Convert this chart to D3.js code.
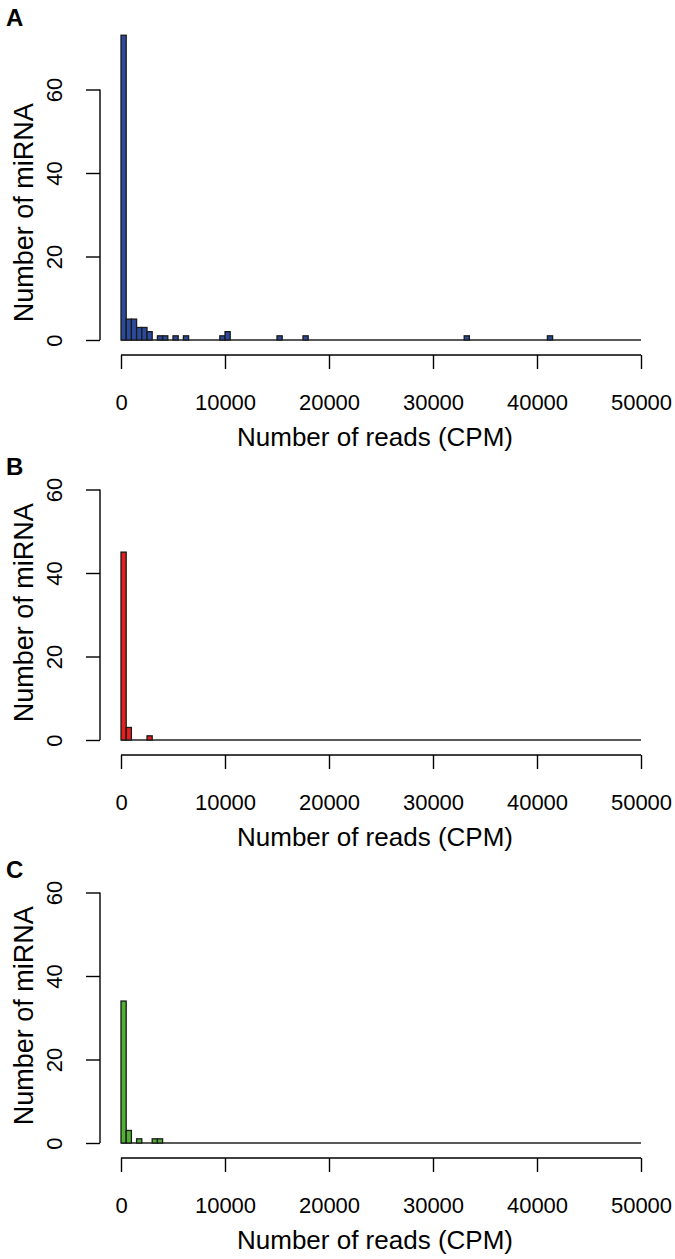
<!DOCTYPE html>
<html lang="en">
<head>
    <meta charset="UTF-8">
    <title>miRNA read count histograms</title>
    <script src="https://d3js.org/d3.v7.min.js"></script>
    <style>
        body { margin: 0; background: #fff; font-family: Arial, "Liberation Sans", sans-serif; }
        svg text { fill: #000; }
    </style>
</head>
<body>
<div id="chart"></div>
<script>
    // bin starts (CPM, bin width 500) and counts for each panel
    const binWidth = 500;
    const xTicks = [0, 10000, 20000, 30000, 40000, 50000];
    const yTicks = [0, 20, 40, 60];

    const binsA = [0, 500, 1000, 1500, 2000, 2500, 3500, 4000, 5000, 6000, 9500, 10000, 15000, 17500, 33000, 41000];
    const countsA = [73, 5, 5, 3, 3, 2, 1, 1, 1, 1, 1, 2, 1, 1, 1, 1];

    const binsB = [0, 500, 2500];
    const countsB = [45, 3, 1];

    const binsC = [0, 500, 1500, 3000, 3500];
    const countsC = [34, 3, 1, 1, 1];

    const panels = [
        { label: "A", bins: binsA, counts: countsA, color: "#2b4a9c", top: 0, letterY: 26 },
        { label: "B", bins: binsB, counts: countsB, color: "#e3201f", top: 400, letterY: 475 },
        { label: "C", bins: binsC, counts: countsC, color: "#52b035", top: 803, letterY: 878 }
    ];

    const width = 675, height = 1259;
    const svg = d3.select("#chart").append("svg")
        .attr("width", width)
        .attr("height", height);

    const x = d3.scaleLinear().domain([0, 50000]).range([121, 641]);

    panels.forEach(p => {
        const g = svg.append("g").attr("transform", `translate(0,${p.top})`);
        const y = d3.scaleLinear().domain([0, 60]).range([340, 89.5]);

        // panel letter
        svg.append("text")
            .attr("x", 6)
            .attr("y", p.letterY)
            .style("font-size", "24px")
            .style("font-weight", "bold")
            .text(p.label);

        // zero baseline of empty bins
        g.append("line")
            .attr("x1", x(0)).attr("x2", x(50000))
            .attr("y1", y(0)).attr("y2", y(0))
            .attr("stroke", "#222").attr("stroke-width", 1.4);

        // bars
        g.selectAll("rect.bar")
            .data(p.bins.map((b, i) => ({ start: b, n: p.counts[i] })))
            .enter().append("rect")
            .attr("class", "bar")
            .attr("x", d => x(d.start))
            .attr("y", d => y(d.n))
            .attr("width", d => x(d.start + binWidth) - x(d.start))
            .attr("height", d => y(0) - y(d.n))
            .attr("fill", p.color)
            .attr("stroke", "#1a1a1a")
            .attr("stroke-width", 1.3);

        // x axis
        const xAxis = g.append("g")
            .attr("transform", "translate(0,355)")
            .call(d3.axisBottom(x).tickValues(xTicks).tickSize(14).tickPadding(25).tickFormat(d3.format("d")));
        xAxis.select(".domain").attr("d", `M${x(0)},0H${x(50000)}`).attr("stroke-width", 1.4);
        xAxis.selectAll(".tick line").attr("stroke-width", 1.4);
        xAxis.selectAll("text").style("font-size", "22px").style("font-family", "Arial, 'Liberation Sans', sans-serif");

        g.append("text")
            .attr("x", 375)
            .attr("y", 446)
            .attr("text-anchor", "middle")
            .style("font-size", "26px")
            .text("Number of reads (CPM)");

        // y axis
        const yAxis = g.append("g")
            .attr("transform", "translate(100,0)")
            .call(d3.axisLeft(y).tickValues(yTicks).tickSize(14).tickFormat(d3.format("d")));
        yAxis.select(".domain").attr("d", `M0,${y(0)}V${y(60)}`).attr("stroke-width", 1.4);
        yAxis.selectAll(".tick line").attr("stroke-width", 1.4);
        yAxis.selectAll(".tick text")
            .attr("x", null).attr("dy", null)
            .attr("transform", "translate(-38,0) rotate(-90)")
            .attr("text-anchor", "middle")
            .style("font-size", "22px")
            .style("font-family", "Arial, 'Liberation Sans', sans-serif");

        g.append("text")
            .attr("transform", `translate(33,${(y(0) + y(60)) / 2 - 2}) rotate(-90)`)
            .attr("text-anchor", "middle")
            .style("font-size", "27px")
            .text("Number of miRNA");
    });
</script>
</body>
</html>
